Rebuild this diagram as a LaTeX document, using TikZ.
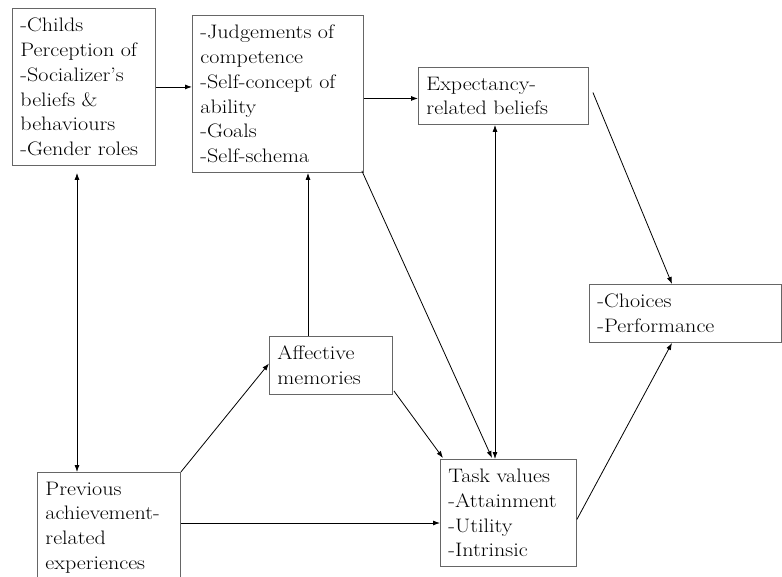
\documentclass[tikz,border=0pt]{standalone}
\usepackage{fontspec}
\setmainfont{Latin Modern Roman}[FakeStretch=1.13]
\usetikzlibrary{calc,arrows.meta}
\begin{document}
\begin{tikzpicture}[x=1pt,y=-1pt,
  box/.style={draw=black!60, line width=0.9pt, anchor=north west, align=left,
    inner xsep=8pt, inner ysep=0pt, font=\fontsize{19.5}{24.8}\selectfont},
  link/.style={line width=0.8pt, -{Latex[length=7pt,width=5pt]}},
  both/.style={line width=0.8pt, {Latex[length=7pt,width=5pt]}-{Latex[length=7pt,width=5pt]}}]
\useasboundingbox (0,0) rectangle (782,576);

% boxes
\node[box, text width=127pt, minimum height=157pt] (A) at (12,8)
  {-Childs\\Perception of\\-Socializer’s\\beliefs \&\\behaviours\\-Gender roles};
\node[box, text width=155pt, minimum height=157pt] (B) at (192,15)
  {-Judgements of\\competence\\-Self-concept of\\ability\\-Goals\\-Self-schema};
\node[box, text width=154pt, minimum height=57pt] (C) at (418,67)
  {Expectancy-\\related beliefs};
\node[box, text width=176pt, minimum height=58pt] (D) at (589,284)
  {-Choices\\-Performance};
\node[box, text width=107pt, minimum height=58pt] (E) at (269,336)
  {Affective\\memories};
\node[box, text width=127pt, minimum height=110pt] (F) at (37,472)
  {Previous\\achievement-\\related\\experiences};
\node[box, text width=120pt, minimum height=107pt] (G) at (440,459)
  {Task values\\-Attainment\\-Utility\\-Intrinsic};

% connector end points
\coordinate (bc) at ($(B.east)+(0,4.5)$);
\coordinate (ce) at ($(C.east)+(4,-3.5)$);
\coordinate (dt) at ($(D.north west)+(83,0)$);
\coordinate (db) at ($(D.south west)+(83,0)$);
\coordinate (ab) at ($(A.south west)+(65,7)$);
\coordinate (ft) at ($(F.north west)+(40,0)$);
\coordinate (et) at ($(E.north west)+(39,0)$);
\coordinate (bs) at ($(B.south east)+(-2,-2)$);
\coordinate (gt) at ($(G.north west)+(52,-1)$);
\coordinate (cb) at ($(C.south west)+(77,0)$);
\coordinate (es) at ($(E.south east)+(1,-4)$);
\coordinate (gl) at ($(G.north west)+(3,-1)$);
\coordinate (ew) at ($(E.west)+(0,-2)$);
\coordinate (fe) at ($(F.north east)+(0,51)$);
\coordinate (ge) at ($(G.east)+(0,6.5)$);

% connectors
\draw[link] (A.east) -- (A.east -| B.west);
\draw[link] (bc) -- (bc -| C.west);
\draw[link] (ce) -- (dt);
\draw[both] (ab) -- (ft);
\draw[link] (et) -- (et |- B.south);
\draw[link] (bs) -- (gt);
\draw[both] (cb) -- (cb |- G.north);
\draw[link] (es) -- (gl);
\draw[link] (F.north east) -- (ew);
\draw[link] (fe) -- (fe -| G.west);
\draw[link] (ge) -- (db);
\end{tikzpicture}
\end{document}
